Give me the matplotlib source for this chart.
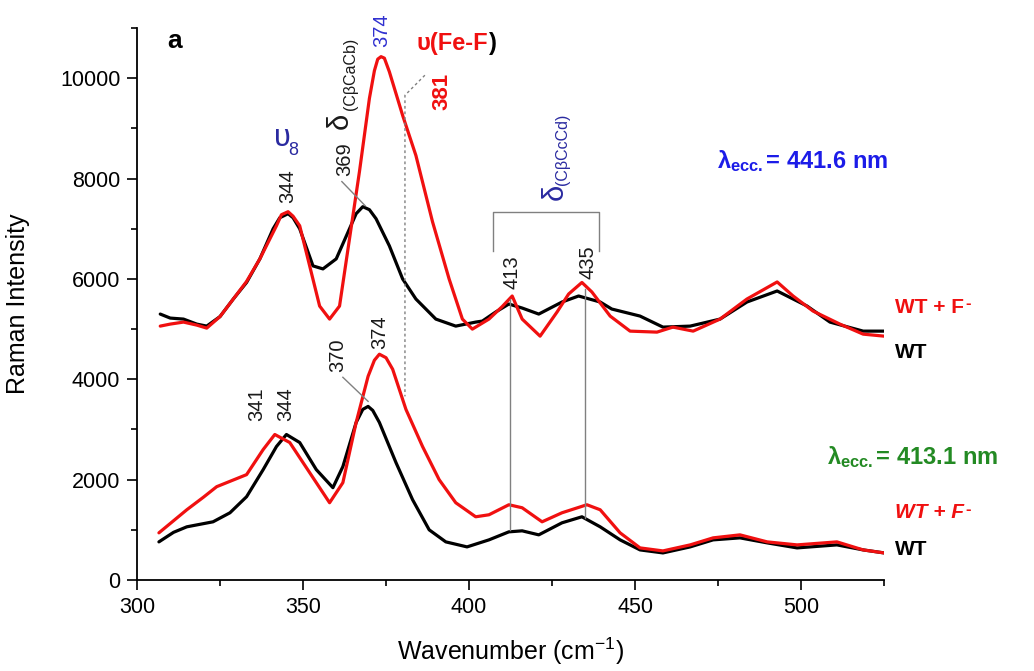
#raman spectra of WT and WT + F- at two excitation wavelengths
import matplotlib
matplotlib.use('Agg')
import matplotlib.pyplot as plt
from matplotlib.ticker import MultipleLocator

plt.rcParams['font.family'] = ['Liberation Sans', 'DejaVu Sans']
plt.rcParams['mathtext.fontset'] = 'custom'
plt.rcParams['mathtext.rm'] = 'Liberation Sans'
plt.rcParams['mathtext.it'] = 'Liberation Sans:italic'
plt.rcParams['mathtext.bf'] = 'Liberation Sans:bold'

#441.6 nm excitation, WT
wt_hi_x = [307, 310, 314, 318, 321, 325, 329, 333, 337, 341, 343, 345.5, 347, 349, 353, 356, 360, 364,
           366, 368, 370, 372, 376, 380, 384, 390, 396, 402, 404, 408, 412, 416, 421, 428, 433, 439.5,
           443, 451.5, 458.4, 466.6, 475.6, 483.7, 492.8, 501.8, 508.7, 518.7, 525]
wt_hi_y = [5300, 5220, 5200, 5100, 5060, 5250, 5600, 5930, 6400, 7000, 7220, 7300, 7220, 7000, 6260,
           6200, 6400, 7000, 7300, 7440, 7380, 7200, 6660, 6000, 5600, 5200, 5060, 5140, 5160, 5340,
           5500, 5420, 5300, 5540, 5660, 5540, 5400, 5260, 5040, 5060, 5200, 5540, 5760, 5460, 5140,
           4960, 4960]

#441.6 nm excitation, WT + F-
wtf_hi_x = [307, 310, 314, 318, 321, 325, 329, 333, 337, 342, 343.5, 345.5, 347, 349, 352, 355, 358, 361,
            364, 367, 370, 371.5, 372.5, 373.5, 374.5, 376, 380, 384, 389, 394, 398, 401, 406, 410, 413,
            416, 421.4, 426.5, 430, 434, 437, 442.5, 448.5, 456.6, 461.4, 467.5, 475.6, 483.7, 492.8,
            497.6, 503.6, 511.7, 518.7, 525]
wtf_hi_y = [5060, 5100, 5140, 5080, 5020, 5250, 5600, 5950, 6400, 7060, 7280, 7340, 7250, 7060, 6260,
            5460, 5200, 5460, 6800, 8140, 9600, 10150, 10380, 10430, 10400, 10130, 9260, 8460, 7140,
            6000, 5200, 5000, 5200, 5450, 5660, 5200, 4860, 5340, 5700, 5930, 5740, 5260, 4960, 4940,
            5040, 4960, 5200, 5600, 5940, 5660, 5360, 5100, 4900, 4860]

#413.1 nm excitation, WT
wt_lo_x = [306.6, 311, 315, 322.9, 328, 333, 338, 342, 345, 349, 354, 359, 362, 366, 368, 369.6, 371,
           373, 378, 383, 388, 393, 399.4, 406, 412, 416, 421, 428, 434, 439.5, 445.5, 451.5, 458.4,
           466.6, 473.5, 481.6, 489.8, 498.8, 510.8, 518.7, 525]
wt_lo_y = [760, 950, 1060, 1160, 1340, 1660, 2200, 2660, 2900, 2740, 2200, 1840, 2260, 3140, 3400, 3460,
           3380, 3140, 2340, 1600, 1000, 760, 660, 800, 960, 980, 900, 1140, 1260, 1060, 800, 600, 540,
           660, 800, 840, 740, 640, 700, 600, 540]

#413.1 nm excitation, WT + F-
wtf_lo_x = [306.6, 315, 320, 324, 333, 338, 341.5, 346, 352, 358, 362, 366, 369.6, 371.5, 373, 375, 377,
            381, 386, 391, 396, 402, 406, 412, 416, 422, 428, 435.5, 439.5, 445.5, 451.5, 458.4, 466.6,
            473.5, 481.6, 489.8, 498.8, 510.8, 518.7, 525]
wtf_lo_y = [940, 1400, 1650, 1860, 2100, 2600, 2900, 2740, 2140, 1540, 1940, 3140, 4060, 4380, 4500, 4430,
            4200, 3400, 2660, 2000, 1540, 1260, 1300, 1500, 1440, 1160, 1340, 1500, 1400, 940, 640, 580,
            700, 840, 900, 760, 700, 760, 600, 540]

red = '#f01010'
navy = '#2a2aa0'
blue = '#1c1ce8'
green = '#238a23'
grey = '#808080'
numc = '#1a1a1a'

fig = plt.figure(figsize=(10.34, 6.71), dpi=100)
ax = fig.add_axes([0.1325, 0.1356, 0.7225, 0.8226])

line_kw = dict(lw=2.3, solid_joinstyle='round', solid_capstyle='round')
ax.plot(wt_hi_x, wt_hi_y, color='black', **line_kw)
ax.plot(wtf_hi_x, wtf_hi_y, color=red, **line_kw)
ax.plot(wt_lo_x, wt_lo_y, color='black', **line_kw)
ax.plot(wtf_lo_x, wtf_lo_y, color=red, **line_kw)

ax.set_xlim(300, 525)
ax.set_ylim(0, 11000)
ax.xaxis.set_major_locator(MultipleLocator(50))
ax.xaxis.set_minor_locator(MultipleLocator(25))
ax.yaxis.set_major_locator(MultipleLocator(2000))
ax.yaxis.set_minor_locator(MultipleLocator(1000))
for s in ['top', 'right']:
    ax.spines[s].set_visible(False)
for s in ['left', 'bottom']:
    ax.spines[s].set_linewidth(1.3)
ax.tick_params(which='major', direction='out', length=7, width=1.2, labelsize=15.5, pad=5)
ax.tick_params(which='minor', direction='out', length=4, width=1.2)

ax.set_xlabel(r'Wavenumber (cm$^{\mathrm{-1}}$)', fontsize=18)
ax.set_ylabel('Raman Intensity', fontsize=18)
ax.xaxis.set_label_coords(0.5, -0.1)
ax.yaxis.set_label_coords(-0.143, 0.5)

#panel letter
ax.text(311.4, 10740, 'a', fontsize=19, fontweight='bold', ha='center', va='center')

#peak labels, upper spectra
ax.text(343.7, 8800, 'υ', fontsize=22, color=navy, ha='center', va='center')
ax.text(347.2, 8560, '8', fontsize=13, color=navy, ha='center', va='center')
ax.text(345.5, 7520, '344', rotation=90, fontsize=14.5, color=numc, ha='center', va='bottom')
ax.text(362.6, 8060, '369', rotation=90, fontsize=14.5, color=numc, ha='center', va='bottom')
ax.plot([361.7, 368.7], [7940, 7460], color=grey, lw=1)
ax.text(361.1, 9160, 'δ', rotation=90, fontsize=21, color=numc, ha='center', va='center')
ax.text(364.2, 10080, '(CβCaCb)', rotation=90, fontsize=11.5, color=numc, ha='center', va='center')
ax.text(373.8, 10620, '374', rotation=90, fontsize=14.5, color='#3030d0', ha='center', va='bottom')

fe = ax.text(384.3, 10560, 'υ(Fe-F', fontsize=17, fontweight='bold', color=red, ha='left', va='baseline')
ax.annotate(')', xy=(1, 0), xycoords=fe, fontsize=17, fontweight='bold', color='black',
            ha='left', va='bottom')
ax.text(391.9, 9360, '381', rotation=90, fontsize=16, fontweight='bold', color=red, ha='center', va='bottom')
ax.plot([386.7, 380.7, 380.7], [10060, 9660, 3660], color=grey, lw=1, ls=(0, (2, 2)))

ax.text(425.9, 7740, 'δ', rotation=90, fontsize=21, color=navy, ha='center', va='center')
ax.text(428.2, 8580, '(CβCcCd)', rotation=90, fontsize=11.5, color=navy, ha='center', va='center')
ax.plot([407.2, 407.2, 439.2, 439.2], [6560, 7340, 7340, 6560], color=grey, lw=1)

ax.text(413.0, 5800, '413', rotation=90, fontsize=14.5, color=numc, ha='center', va='bottom')
ax.text(435.8, 6000, '435', rotation=90, fontsize=14.5, color=numc, ha='center', va='bottom')
ax.plot([412.3, 412.3], [5600, 1000], color=grey, lw=1)
ax.plot([434.9, 434.9], [5800, 1240], color=grey, lw=1)

#peak labels, lower spectra
ax.text(336.0, 3160, '341', rotation=90, fontsize=14.5, color=numc, ha='center', va='bottom')
ax.text(344.9, 3160, '344', rotation=90, fontsize=14.5, color=numc, ha='center', va='bottom')
ax.text(360.5, 4140, '370', rotation=90, fontsize=14.5, color=numc, ha='center', va='bottom')
ax.plot([362.0, 369.6], [4040, 3560], color=grey, lw=1)
ax.text(373.2, 4600, '374', rotation=90, fontsize=14.5, color=numc, ha='center', va='bottom')

#excitation wavelengths
ax.text(474.7, 8340, r'$\mathbf{λ_{ecc.}}$= 441.6 nm', fontsize=17, fontweight='bold', color=blue,
        ha='left', va='center')
ax.text(507.8, 2460, r'$\mathbf{λ_{ecc.}}$= 413.1 nm', fontsize=17, fontweight='bold', color=green,
        ha='left', va='center')

#sample labels
t1 = ax.text(528.4, 5440, 'WT + F', fontsize=15, fontweight='bold', color=red, ha='left', va='center')
ax.annotate('-', xy=(1, 1), xycoords=t1, xytext=(1, 1), textcoords='offset points',
            fontsize=12, fontweight='bold', color=red, ha='left', va='top')
ax.text(528.4, 4540, 'WT', fontsize=15, fontweight='bold', color='black', ha='left', va='center')
t2 = ax.text(528.4, 1340, 'WT + F', fontsize=15, fontweight='bold', fontstyle='italic', color=red,
             ha='left', va='center')
ax.annotate('-', xy=(1, 1), xycoords=t2, xytext=(1, 1), textcoords='offset points',
            fontsize=12, fontweight='bold', color=red, ha='left', va='top')
ax.text(528.4, 600, 'WT', fontsize=15, fontweight='bold', color='black', ha='left', va='center')

fig.savefig('out.png', dpi=100)
